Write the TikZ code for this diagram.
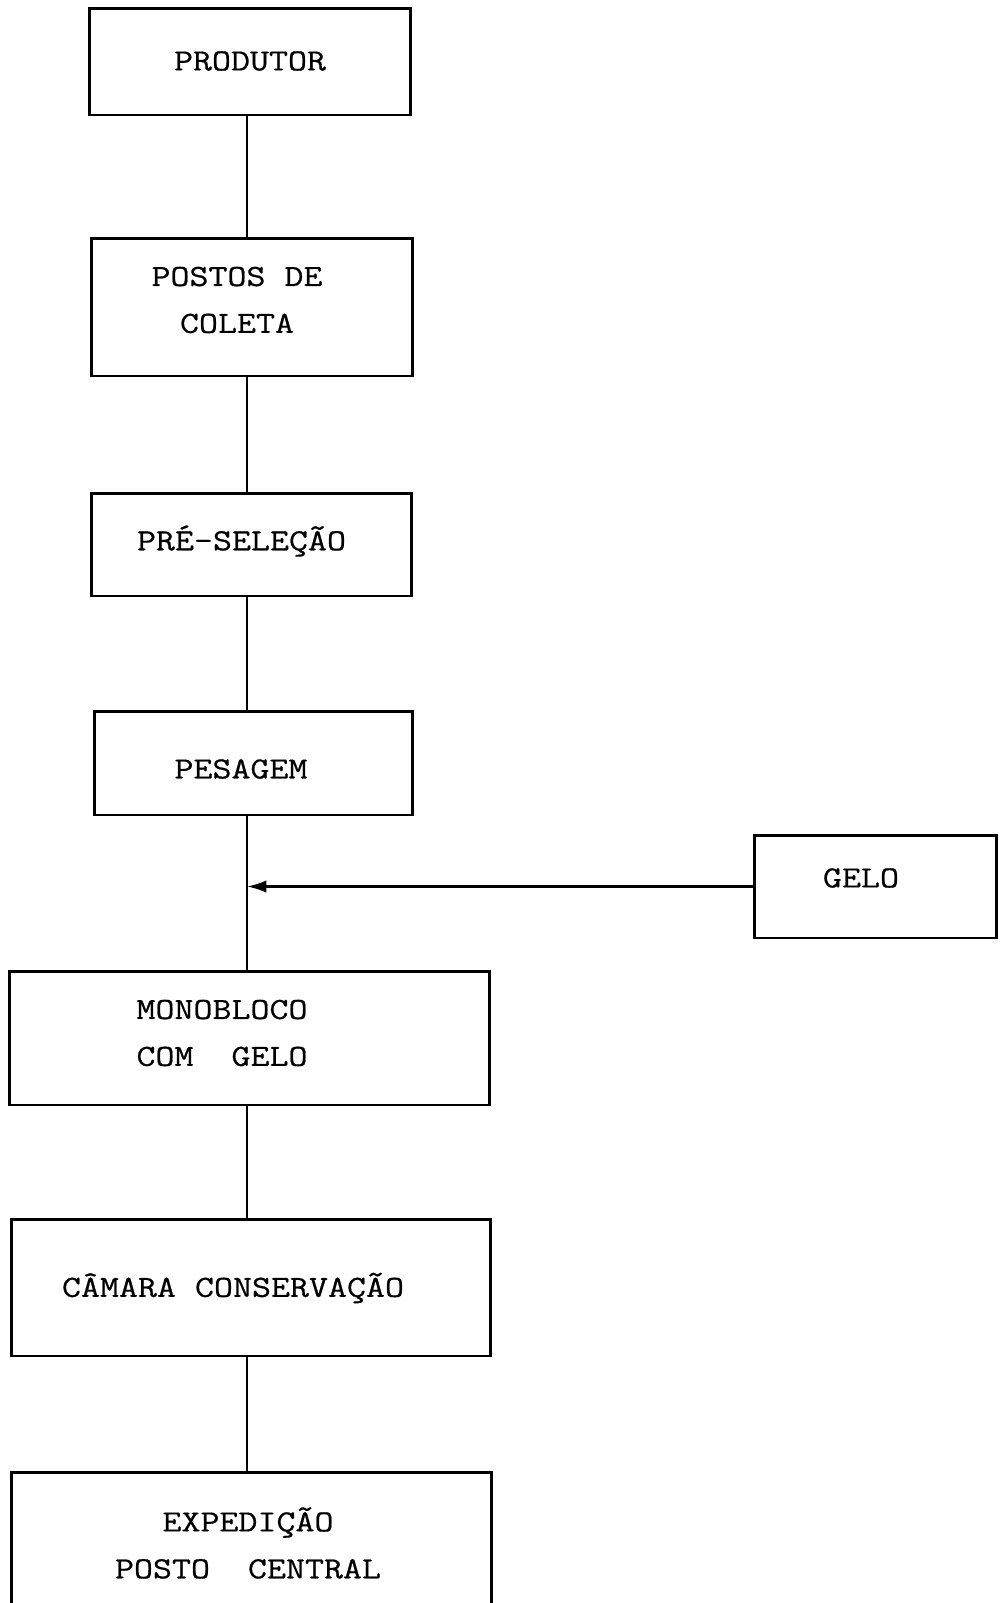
\documentclass[tikz,border=0pt]{standalone}
\usepackage{fontspec}
\newfontfamily\maquina[FakeStretch=1.2,FakeBold=0.6]{lmmono12-regular.otf}
\usetikzlibrary{arrows.meta}

\begin{document}
\begin{tikzpicture}[x=0.02cm,y=-0.02cm,
	caixa/.style={draw,line width=1.7pt,inner sep=0pt},
	rotulo/.style={font=\maquina\fontsize{17.5}{26.7}\selectfont,align=center,inner sep=0pt},
	ligacao/.style={line width=1.3pt}]
	\useasboundingbox (0,0) rectangle (1000,1603);
	\coordinate (tronco) at (247,0); % linha vertical
	
	% caixas
	\node[caixa,minimum width=6.44cm,minimum height=2.14cm] (produtor) at (250,61.5) {};
	\node[caixa,minimum width=6.44cm,minimum height=2.76cm] (coleta) at (252,307) {};
	\node[caixa,minimum width=6.42cm,minimum height=2.06cm] (presel) at (251.5,544.5) {};
	\node[caixa,minimum width=6.38cm,minimum height=2.08cm] (pesagem) at (253.5,763) {};
	\node[caixa,minimum width=4.86cm,minimum height=2.06cm] (gelo) at (875.5,886.5) {};
	\node[caixa,minimum width=9.62cm,minimum height=2.68cm] (monobloco) at (249.5,1038) {};
	\node[caixa,minimum width=9.60cm,minimum height=2.74cm] (camara) at (251,1287.5) {};
	\node[caixa,minimum width=9.62cm,minimum height=2.76cm] (expedicao) at (251.5,1541) {};
	
	% textos
	\node[rotulo] at (250,61) {PRODUTOR};
	\node[rotulo] at (237,300) {POSTOS DE\\COLETA};
	\node[rotulo] at (241.5,541) {PRÉ-SELEÇÃO};
	\node[rotulo] at (241,769) {PESAGEM};
	\node[rotulo] at (861,878) {GELO};
	\node[rotulo] at (222,1033) {MONOBLOCO\\COM\ \ GELO};
	\node[rotulo] at (233,1288) {CÂMARA CONSERVAÇÃO};
	\node[rotulo] at (248,1543) {EXPEDIÇÃO\\POSTO\ \ CENTRAL};
	
	% ligacoes
	\draw[ligacao] (produtor.south -| tronco) -- (coleta.north -| tronco);
	\draw[ligacao] (coleta.south -| tronco) -- (presel.north -| tronco);
	\draw[ligacao] (presel.south -| tronco) -- (pesagem.north -| tronco);
	\draw[ligacao] (pesagem.south -| tronco) -- (monobloco.north -| tronco);
	\draw[ligacao] (monobloco.south -| tronco) -- (camara.north -| tronco);
	\draw[ligacao] (camara.south -| tronco) -- (expedicao.north -| tronco);
	\draw[ligacao,-{Latex[length=11pt,width=7pt]}] (gelo.west) -- (gelo.west -| tronco);
\end{tikzpicture}
\end{document}
